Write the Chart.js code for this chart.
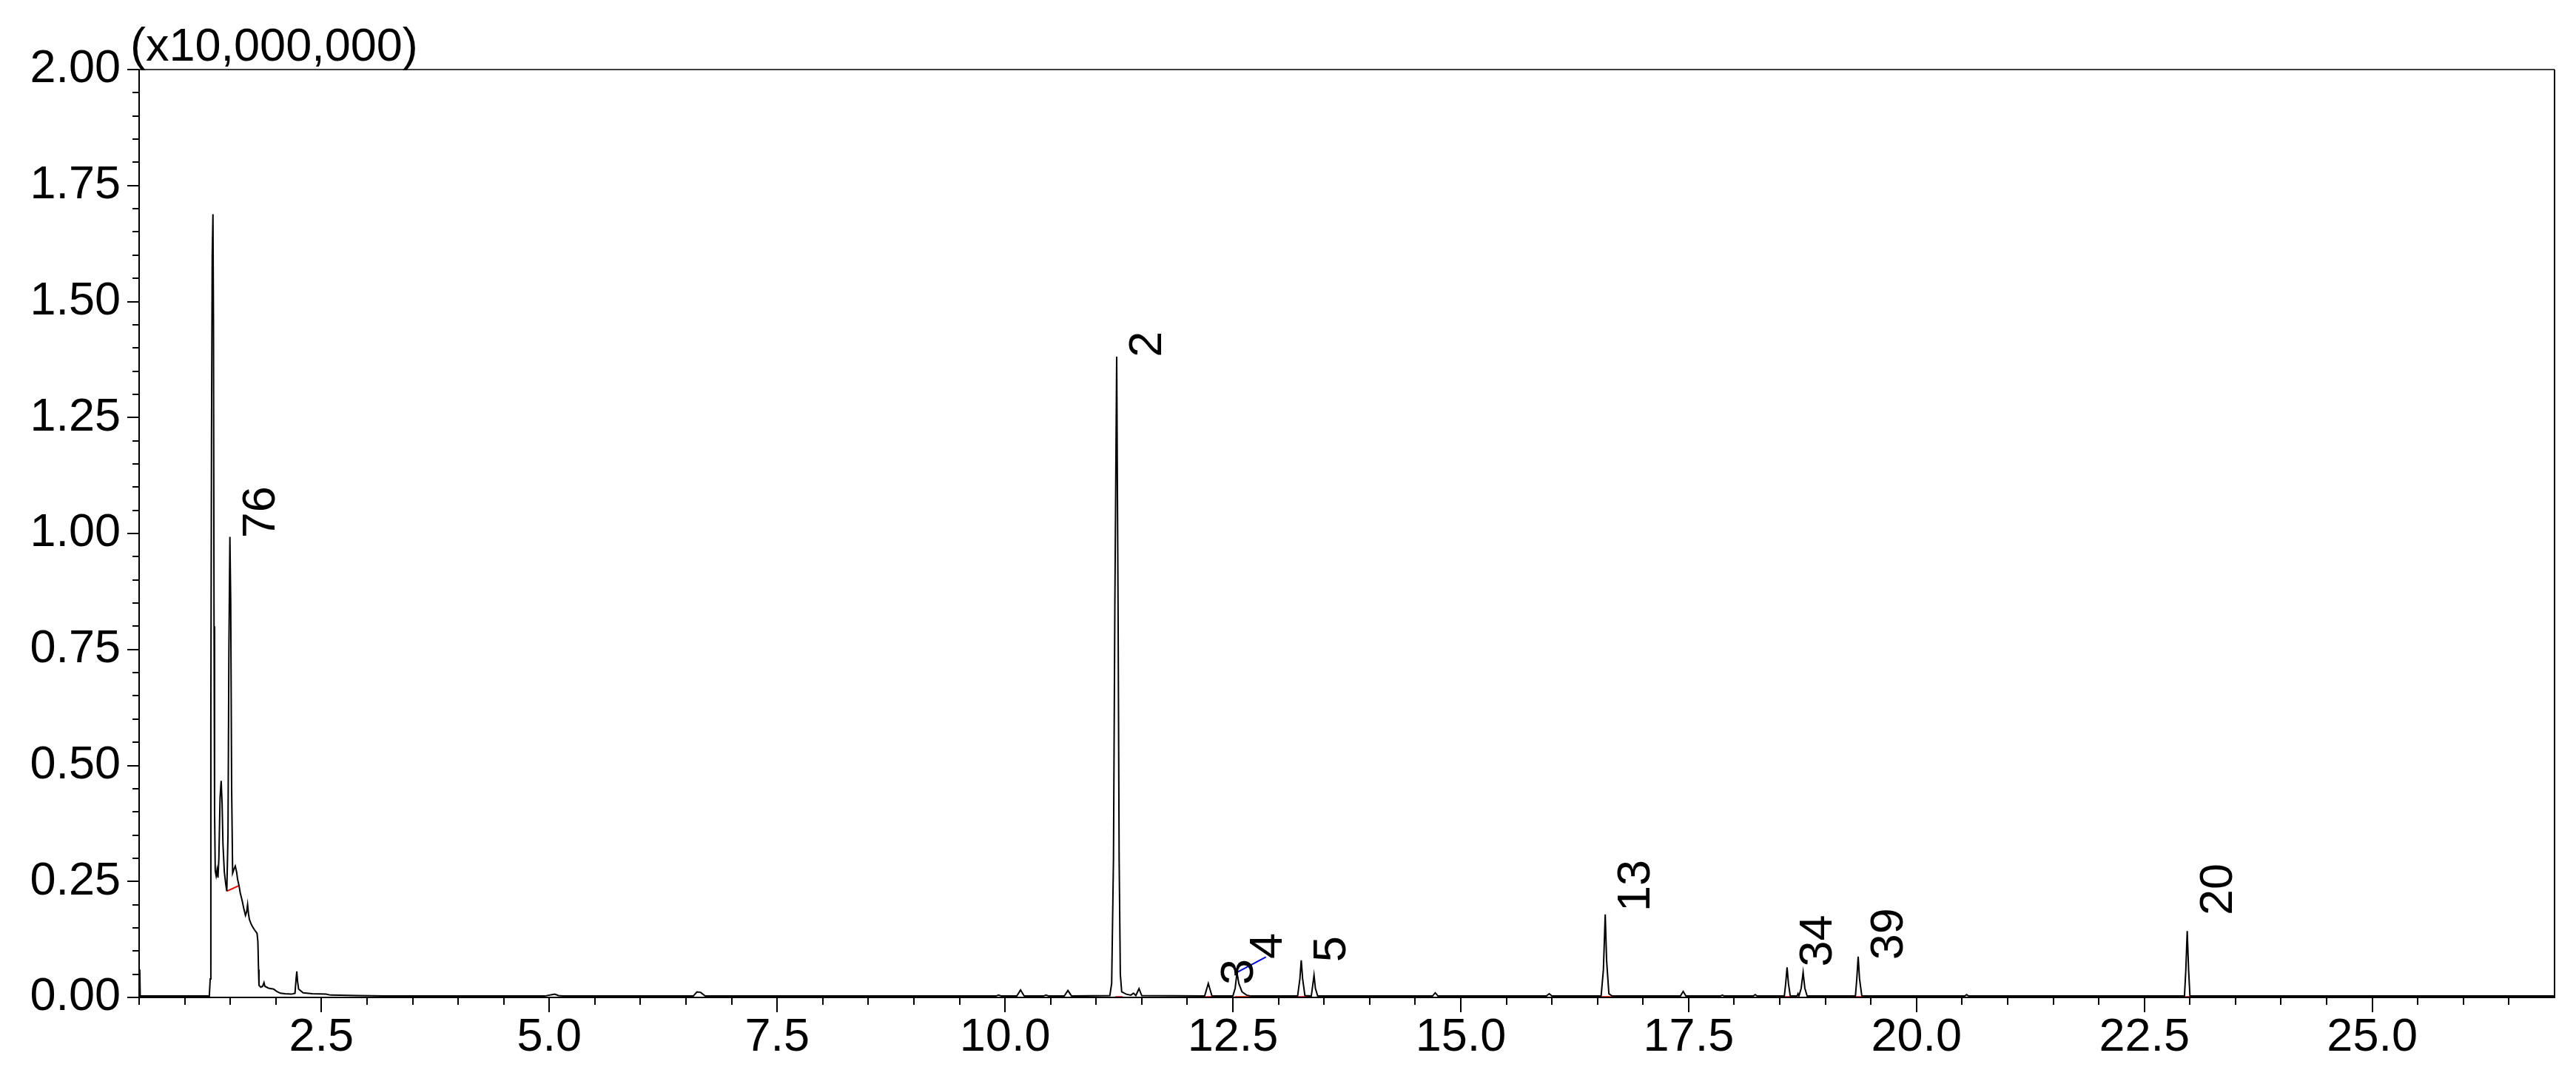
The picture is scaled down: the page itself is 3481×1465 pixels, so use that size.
<!DOCTYPE html>
<html>
<head>
<meta charset="utf-8">
<style>
  html, body { margin: 0; padding: 0; background: #ffffff; }
  #wrap { width: 3481px; height: 1465px; }
</style>
<script src="https://cdn.jsdelivr.net/npm/chart.js@4.4.1/dist/chart.umd.min.js"></script>
</head>
<body>
<div id="wrap"><canvas id="c" width="3481" height="1465"></canvas></div>
<script>
// Retention time (min) and intensity (x10,000,000) of the chromatogram trace
const rt = [
  0.507, 0.512, 1.27, 1.28, 1.287, 1.294, 1.302, 1.31, 1.316, 1.322, 1.328, 1.335, 1.345, 1.355, 1.365, 1.375,
  1.388, 1.40, 1.41, 1.42, 1.435, 1.45, 1.462, 1.475, 1.485, 1.496, 1.505, 1.515, 1.526, 1.54, 1.555, 1.57,
  1.58, 1.596, 1.61, 1.63, 1.65, 1.667, 1.68, 1.69, 1.70, 1.71, 1.725, 1.74, 1.765, 1.794, 1.803, 1.81,
  1.815, 1.835, 1.855, 1.87, 1.88, 1.92, 1.975, 2.01, 2.05, 2.10, 2.17, 2.21, 2.222, 2.23, 2.238, 2.25,
  2.30, 2.40, 2.55, 2.60, 2.90, 3.20, 4.95, 5.03, 5.06, 5.10, 5.15, 6.58, 6.62, 6.66, 6.71,
  9.90, 9.93, 9.96, 10.13, 10.17, 10.21, 10.42, 10.45, 10.48, 10.65, 10.69, 10.73,
  11.15, 11.17, 11.19, 11.205, 11.225, 11.24, 11.252, 11.265, 11.28, 11.33, 11.38, 11.41, 11.435, 11.47, 11.50,
  12.19, 12.23, 12.27, 12.50, 12.525, 12.545, 12.565, 12.60, 12.65, 12.70,
  13.21, 13.235, 13.25, 13.265, 13.29, 13.36, 13.375, 13.39, 13.405, 13.43,
  14.69, 14.72, 14.75, 15.94, 15.97, 16.00,
  16.54, 16.565, 16.585, 16.60, 16.625, 16.66, 17.41, 17.44, 17.47, 17.85, 17.87, 17.89, 18.21, 18.23, 18.25,
  18.55, 18.565, 18.58, 18.595, 18.615, 18.69, 18.70, 18.71, 18.735, 18.756, 18.775, 18.80,
  19.33, 19.345, 19.36, 19.375, 19.40, 20.53, 20.55, 20.57,
  22.94, 22.955, 22.97, 22.985, 23.00, 27.00
];
const intensity = [
  0.060, 0.003, 0.003, 0.04, 0.6, 1.2, 1.6, 1.688, 1.45, 0.8, 0.4, 0.273, 0.262, 0.275, 0.258, 0.30,
  0.43, 0.467, 0.42, 0.33, 0.27, 0.245, 0.229, 0.35, 0.75, 0.993, 0.85, 0.45, 0.268, 0.276, 0.283, 0.27,
  0.255, 0.241, 0.225, 0.209, 0.19, 0.177, 0.185, 0.20, 0.18, 0.168, 0.16, 0.154, 0.146, 0.138, 0.12, 0.06,
  0.026, 0.022, 0.024, 0.032, 0.024, 0.02, 0.018, 0.013, 0.009, 0.008, 0.007, 0.009, 0.04, 0.056, 0.035, 0.018,
  0.01, 0.008, 0.007, 0.005, 0.004, 0.003, 0.003, 0.006, 0.007, 0.004, 0.003, 0.003, 0.012, 0.011, 0.003,
  0.003, 0.005, 0.003, 0.003, 0.016, 0.003, 0.003, 0.005, 0.003, 0.003, 0.015, 0.003,
  0.004, 0.03, 0.3, 0.85, 1.381, 0.85, 0.3, 0.05, 0.012, 0.007, 0.005, 0.009, 0.004, 0.019, 0.004,
  0.003, 0.030, 0.003, 0.003, 0.02, 0.054, 0.03, 0.012, 0.005, 0.003,
  0.003, 0.04, 0.080, 0.04, 0.004, 0.003, 0.025, 0.048, 0.02, 0.003,
  0.003, 0.01, 0.003, 0.003, 0.008, 0.003,
  0.003, 0.06, 0.179, 0.08, 0.008, 0.003, 0.003, 0.013, 0.003, 0.003, 0.005, 0.003, 0.003, 0.006, 0.003,
  0.003, 0.03, 0.065, 0.03, 0.003, 0.003, 0.008, 0.003, 0.02, 0.054, 0.02, 0.003,
  0.003, 0.04, 0.088, 0.04, 0.003, 0.003, 0.006, 0.003,
  0.003, 0.06, 0.143, 0.06, 0.003, 0.003
];

// Integration baselines (red)
const baseX1 = [1.462, 11.21, 12.20, 12.52, 13.21, 16.54, 18.53, 19.32, 22.92];
const baseY1 = [0.229, 0.001, 0.001, 0.001, 0.001, 0.001, 0.001, 0.001, 0.001];
const baseX2 = [1.596, 11.29, 12.30, 12.75, 13.33, 16.70, 18.63, 19.40, 23.07];
const baseY2 = [0.241, 0.001, 0.001, 0.001, 0.001, 0.001, 0.001, 0.001, 0.001];

// Leader line (blue) from peak to label "4"
const leaderX = [12.545, 12.862];
const leaderY = [0.054, 0.087];

// Peak labels
const peakLabels = ['76', '2', '3', '4', '5', '13', '34', '39', '20'];
const peakLabelX = [1.496, 11.225, 12.23, 12.545, 13.25, 16.585, 18.58, 19.36, 22.97];
const peakLabelY = [0.99, 1.38, 0.027, 0.083, 0.076, 0.185, 0.066, 0.081, 0.177];

// Axis ticks
const xTickValues = [2.5, 5.0, 7.5, 10.0, 12.5, 15.0, 17.5, 20.0, 22.5, 25.0];
const yTickValues = [0.00, 0.25, 0.50, 0.75, 1.00, 1.25, 1.50, 1.75, 2.00];
const yUnitLabel = '(x10,000,000)';

const FONT = '"Liberation Sans", Arial, sans-serif';
const FS = 63;

const traceData = rt.map((t, i) => ({ x: t, y: intensity[i] }));
const baseData = [];
baseX1.forEach((x1, i) => {
  baseData.push({ x: x1, y: baseY1[i] });
  baseData.push({ x: baseX2[i], y: baseY2[i] });
  baseData.push({ x: baseX2[i], y: null });
});
const leaderData = leaderX.map((x, i) => ({ x: x, y: leaderY[i] }));

const decorPlugin = {
  id: 'decor',
  afterDraw(chart) {
    const ctx = chart.ctx;
    const { left, right, top, bottom } = chart.chartArea;
    const xs = chart.scales.x, ys = chart.scales.y;
    ctx.save();
    ctx.strokeStyle = '#000';
    ctx.fillStyle = '#000';
    // frame
    ctx.lineWidth = 1.5;
    ctx.beginPath(); ctx.moveTo(left, top); ctx.lineTo(right, top); ctx.stroke();
    ctx.lineWidth = 2;
    ctx.beginPath();
    ctx.moveTo(left, top); ctx.lineTo(left, bottom);
    ctx.lineTo(right, bottom); ctx.lineTo(right, top);
    ctx.stroke();
    // y ticks (major every 0.25, minor every 0.05)
    ctx.lineWidth = 2;
    ctx.beginPath();
    for (let i = 0; i <= 40; i++) {
      const py = Math.round(ys.getPixelForValue(i * 0.05));
      const len = (i % 5 === 0) ? 16 : 9;
      ctx.moveTo(left - len, py); ctx.lineTo(left, py);
    }
    // x ticks (major every 2.5, minor every 0.5)
    for (let i = 1; i <= 53; i++) {
      const px = Math.round(xs.getPixelForValue(i * 0.5));
      const len = (i % 5 === 0) ? 20 : 10;
      ctx.moveTo(px, bottom); ctx.lineTo(px, bottom + len);
    }
    ctx.stroke();
    // unit label
    ctx.font = FS + 'px ' + FONT;
    ctx.textAlign = 'left';
    ctx.textBaseline = 'alphabetic';
    ctx.fillText(yUnitLabel, 176, 82);
    // peak labels, rotated
    peakLabels.forEach((txt, i) => {
      const px = xs.getPixelForValue(peakLabelX[i]) + 60;
      const py = ys.getPixelForValue(peakLabelY[i]);
      ctx.save();
      ctx.translate(px, py);
      ctx.rotate(-Math.PI / 2);
      ctx.fillText(txt, 0, 0);
      ctx.restore();
    });
    ctx.restore();
  }
};

new Chart(document.getElementById('c'), {
  type: 'scatter',
  data: {
    datasets: [
      { data: traceData, showLine: true, pointRadius: 0, borderColor: '#000000', borderWidth: 2, spanGaps: false },
      { data: baseData, showLine: true, pointRadius: 0, borderColor: '#ff0000', borderWidth: 2, spanGaps: false },
      { data: leaderData, showLine: true, pointRadius: 0, borderColor: '#0000ff', borderWidth: 2 }
    ]
  },
  options: {
    responsive: false,
    animation: false,
    events: [],
    layout: { padding: { top: 94, right: 29, left: 0, bottom: 0 } },
    plugins: { legend: { display: false }, tooltip: { enabled: false }, title: { display: false } },
    scales: {
      x: {
        type: 'linear', min: 0.5, max: 27,
        grid: { display: false, drawTicks: false },
        border: { display: false },
        afterBuildTicks(scale) { scale.ticks = xTickValues.map(v => ({ value: v })); },
        afterFit(scale) { scale.height = 117; },
        ticks: {
          autoSkip: false, maxRotation: 0, padding: 17, color: '#000',
          font: { family: FONT, size: FS },
          callback: (v) => Number(v).toFixed(1)
        }
      },
      y: {
        type: 'linear', min: 0, max: 2,
        grid: { display: false, drawTicks: false },
        border: { display: false },
        afterBuildTicks(scale) { scale.ticks = yTickValues.map(v => ({ value: v })); },
        afterFit(scale) { scale.width = 188; },
        ticks: {
          autoSkip: false, padding: 25, color: '#000',
          font: { family: FONT, size: FS },
          callback: (v) => Number(v).toFixed(2)
        }
      }
    }
  },
  plugins: [decorPlugin]
});
</script>
</body>
</html>
